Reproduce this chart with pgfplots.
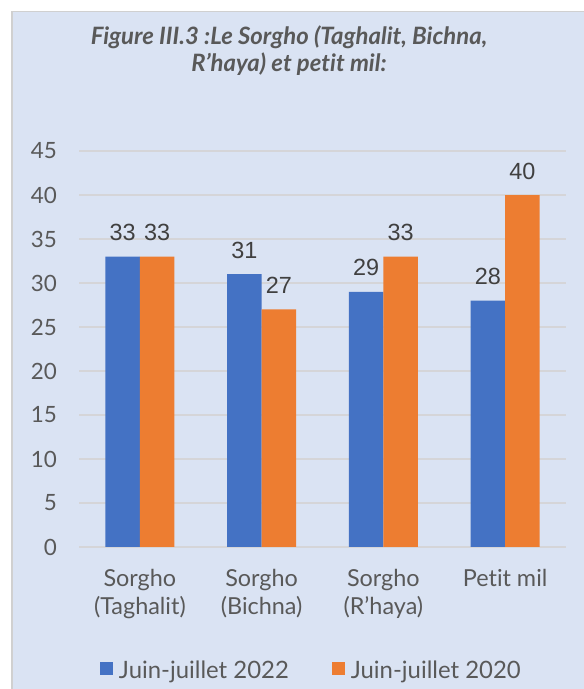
\documentclass[border=0pt]{standalone}
\usepackage{pgfplots}
\pgfplotsset{compat=1.18}
\usepackage{fontspec}
\setmainfont{Lato}[Ligatures=NoCommon]
\newfontfamily\arialf{Liberation Sans}
\definecolor{bgc}{HTML}{DAE3F3}
\definecolor{bluec}{HTML}{4472C4}
\definecolor{orangec}{HTML}{ED7D31}
\definecolor{gridc}{HTML}{D5D5D8}
\definecolor{txtc}{HTML}{595959}
\definecolor{lblc}{HTML}{404040}
\definecolor{framec}{HTML}{D0D0D0}
\begin{document}
\begin{tikzpicture}
\useasboundingbox (0bp,0bp) rectangle (584bp,689bp);
\fill[white] (0bp,0bp) rectangle (584bp,689bp);
\fill[bgc] (11bp,0bp) rectangle (584bp,678bp);
\draw[framec, line width=1.5bp] (11.75bp,0bp) -- (11.75bp,677.25bp) -- (584bp,677.25bp);
\node[anchor=base, inner sep=0pt, font=\bfseries\itshape\fontsize{24}{28}\selectfont, text=txtc] at (289bp,644.5bp) {Figure III.3 :Le Sorgho (Taghalit, Bichna,};
\node[anchor=base, inner sep=0pt, font=\bfseries\itshape\fontsize{24}{28}\selectfont, text=txtc] at (289bp,617bp) {R’haya) et petit mil:};
\begin{axis}[
  at={(79bp,142bp)}, anchor=south west,
  scale only axis, width=487bp, height=396bp,
  xmin=-0.5, xmax=3.5, ymin=0, ymax=45,
  ytick={0,5,...,45},
  xtick=data,
  xticklabels={{Sorgho\\(Taghalit)},{Sorgho\\(Bichna)},{Sorgho\\(R’haya)},{Petit mil}},
  axis line style={draw=none},
  major tick length=0pt,
  ymajorgrids, grid style={gridc, line width=1.3bp},
  /pgf/number format/assume math mode=true,
  yticklabel style={anchor=east, inner sep=0pt, xshift=-22bp, text=txtc, font=\fontsize{22.5}{22.5}\selectfont},
  xticklabel style={anchor=north, inner sep=0pt, yshift=-22bp, align=center, text=txtc, font=\fontsize{23.5}{28}\selectfont},
  ybar=0pt, bar width=34.5bp,
  nodes near coords,
  nodes near coords style={anchor=base, inner sep=0pt, yshift=16bp, text=lblc, font=\arialf\fontsize{23.5}{23.5}\selectfont},
  legend columns=2,
  legend image code/.code={\fill[#1] (0bp,-5bp) rectangle (13bp,8bp);},
  legend style={at={(0.0431,-0.3106)}, anchor=west, draw=none, fill=none, inner sep=0pt, outer sep=0pt,
    font=\fontsize{24}{24}\selectfont, text=txtc,
    nodes={inner sep=0pt},
    /tikz/every odd column/.append style={column sep=6bp},
    /tikz/every even column/.append style={column sep=43bp}},
  legend cell align=left,
]
\addplot[fill=bluec, draw=none] coordinates {(0,33) (1,31) (2,29) (3,28)};
\addplot[fill=orangec, draw=none] coordinates {(0,33) (1,27) (2,33) (3,40)};
\legend{Juin-juillet 2022, Juin-juillet 2020}
\end{axis}
\end{tikzpicture}
\end{document}
